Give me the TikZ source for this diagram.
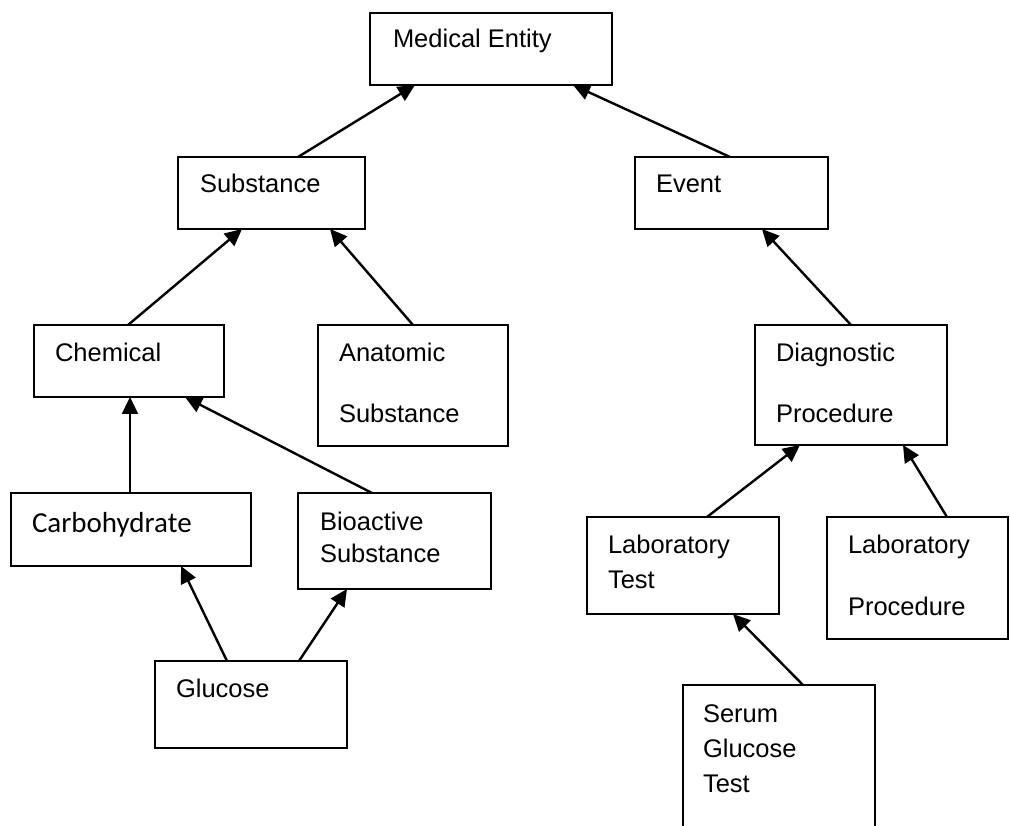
\documentclass[tikz,border=0pt]{standalone}
\usepackage{fontspec}
\setmainfont{Liberation Sans}
\newfontfamily\carlito{Carlito}
\usetikzlibrary{arrows.meta}
\begin{document}
\begin{tikzpicture}[x=1pt,y=-1pt,
  box/.style={draw=black,line width=1.8pt,inner sep=0pt,outer sep=0pt,anchor=north west},
  openbox/.style={inner sep=0pt,outer sep=0pt,anchor=north west},
  lbl/.style={anchor=base west,inner sep=0pt,outer sep=0pt,font=\fontsize{25.5}{30}\selectfont},
  clbl/.style={anchor=base west,inner sep=0pt,outer sep=0pt,font=\carlito\fontsize{29}{34}\selectfont},
  isa/.style={line width=2.4pt,-{Triangle[length=17pt,width=16pt]}}]
\fill[white] (0,0) rectangle (1010,826);
\clip (0,0) rectangle (1010,826);

% boxes
\node[box,minimum width=242pt,minimum height=72pt] (med) at (370,13) {};
\node[box,minimum width=187pt,minimum height=72pt] (sub) at (178,157) {};
\node[box,minimum width=193pt,minimum height=72pt] (evt) at (635,157) {};
\node[box,minimum width=190pt,minimum height=72pt] (chem) at (34,325) {};
\node[box,minimum width=190pt,minimum height=121pt] (anat) at (318,325) {};
\node[box,minimum width=192pt,minimum height=120pt] (diag) at (755,325) {};
\node[box,minimum width=240pt,minimum height=73pt] (carb) at (11,493) {};
\node[box,minimum width=193pt,minimum height=96pt] (bio) at (298,493) {};
\node[box,minimum width=192pt,minimum height=97pt] (lt) at (587,517) {};
\node[box,minimum width=181pt,minimum height=122pt] (lp) at (827,517) {};
\node[box,minimum width=192pt,minimum height=87pt] (glu) at (155,661) {};
\node[openbox,minimum width=192pt,minimum height=150pt] (ser) at (683,685) {};
\draw[line width=1.8pt] (ser.south west) -- (ser.north west) -- (ser.north east) -- (ser.south east);

% labels
\node[lbl] (medT) at (393,48) {Medical Entity};
\node[lbl] (subT) at (200,193) {Substance};
\node[lbl] (evtT) at (656,193) {Event};
\node[lbl] (chemT) at (55,362) {Chemical};
\node[lbl] (anatT1) at (339,362) {Anatomic};
\node[lbl] (anatT2) at (339,422) {Substance};
\node[lbl] (diagT1) at (776,362) {Diagnostic};
\node[lbl] (diagT2) at (776,422) {Procedure};
\node[clbl] (carbT) at (32,532) {Carbohydrate};
\node[lbl] (bioT1) at (320,530) {Bioactive};
\node[lbl] (bioT2) at (320,562) {Substance};
\node[lbl] (ltT1) at (608,553) {Laboratory};
\node[lbl] (ltT2) at (608,588) {Test};
\node[lbl] (lpT1) at (848,553) {Laboratory};
\node[lbl] (lpT2) at (848,615) {Procedure};
\node[lbl] (gluT) at (176,697) {Glucose};
\node[lbl] (serT1) at (703,722) {Serum};
\node[lbl] (serT2) at (703,757) {Glucose};
\node[lbl] (serT3) at (703,792) {Test};

% is-a links
\draw[isa] ([xshift=120pt]sub.north west) -- ([xshift=45pt]med.south west);
\draw[isa] ([xshift=95pt]evt.north west) -- ([xshift=203pt]med.south west);
\draw[isa] ([xshift=94pt]chem.north west) -- ([xshift=64pt]sub.south west);
\draw[isa] ([xshift=95pt]anat.north west) -- ([xshift=152pt]sub.south west);
\draw[isa] ([xshift=96pt]diag.north west) -- ([xshift=127pt]evt.south west);
\draw[isa] ([xshift=119pt]carb.north west) -- ([xshift=96pt]chem.south west);
\draw[isa] ([xshift=74pt]bio.north west) -- ([xshift=151pt]chem.south west);
\draw[isa] ([xshift=72pt]glu.north west) -- ([xshift=170pt]carb.south west);
\draw[isa] ([xshift=144pt]glu.north west) -- ([xshift=49pt]bio.south west);
\draw[isa] ([xshift=120pt]lt.north west) -- ([xshift=45pt]diag.south west);
\draw[isa] ([xshift=120pt]lp.north west) -- ([xshift=148pt]diag.south west);
\draw[isa] ([xshift=120pt]ser.north west) -- ([xshift=146pt]lt.south west);
\end{tikzpicture}
\end{document}
